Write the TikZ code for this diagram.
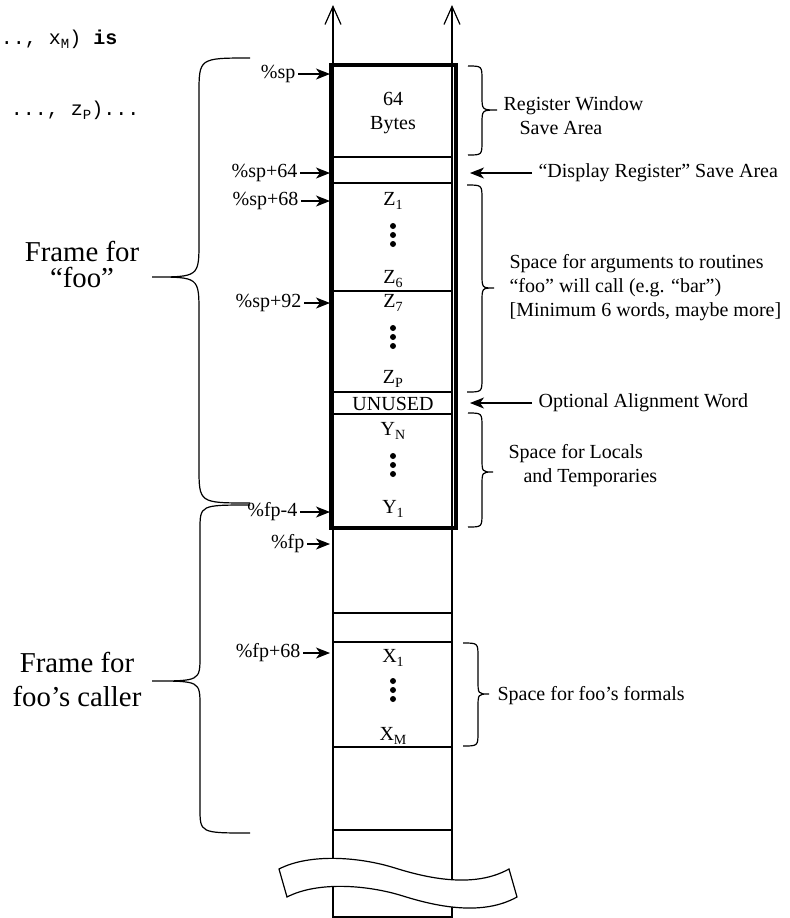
\documentclass[tikz,border=0pt]{standalone}
\usepackage{fontspec}
\setmainfont{Liberation Serif}
\setmonofont{Liberation Mono}
\usetikzlibrary{arrows.meta}

\newcommand{\lowidx}[1]{\raisebox{-2pt}{\scriptsize #1}}
% #1 end x, #2 spine x, #3 tip x, #4 top y, #5 tip y, #6 bottom y, #7 bend
\newcommand{\curly}[7]{%
  \draw (#1,#4) .. controls (#2,#4) .. (#2,#4+#7) -- (#2,#5-#7)
    .. controls (#2,#5) .. (#3,#5) .. controls (#2,#5) .. (#2,#5+#7)
    -- (#2,#6-#7) .. controls (#2,#6) .. (#1,#6);}

\begin{document}
\begin{tikzpicture}[x=0.5pt, y=-0.5pt, line width=0.6pt,
  every node/.style={inner sep=0pt, font=\fontsize{10}{12}\selectfont},
  ptr/.style={-{Stealth[length=7pt,width=5.5pt,inset=2pt]}},
  growth/.style={-{Straight Barb[length=9pt,width=8pt]}},
  slot/.style={anchor=base},
  addr/.style={anchor=east, inner sep=1pt},
  tag/.style={anchor=west, inner sep=3pt},
  note/.style={anchor=base west, align=left},
  framelabel/.style={anchor=base, align=center, font=\fontsize{14.4}{13}\selectfont},
  code/.style={anchor=base east, font=\ttfamily\fontsize{10}{12}\selectfont}]
  \useasboundingbox (0,0) rectangle (790,918);

  \coordinate (tipL) at (330,0);
  \coordinate (wing) at (470,0);

  % Stack column
  \draw[growth] (333,65) -- (333,5);
  \draw[growth] (452,65) -- (452,5);
  \draw (333,65) -- (333,917) -- (452,917) -- (452,65);
  \foreach \y in {157,183,291,392,414,528,613,642,747,830}
    \draw (333,\y) -- (452,\y);
  \draw[line width=2pt] (331,65) rectangle (456,528);

  % Break in the column
  \filldraw[fill=white] (279,869) .. controls (310,853) and (360,857) .. (395,868)
    .. controls (430,879) and (475,888) .. (509,869) -- (517,897)
    .. controls (483,916) and (438,907) .. (403,896)
    .. controls (368,885) and (318,881) .. (287,897) -- cycle;

  % Slot contents
  \node[slot, align=center] (bytes) at (393,129) {64\\Bytes};
  \node[slot] (z1) at (393,205) {Z\lowidx{1}};
  \node[slot] (z6) at (393,283) {Z\lowidx{6}};
  \node[slot] (z7) at (393,307) {Z\lowidx{7}};
  \node[slot] (zp) at (393,383) {Z\lowidx{P}};
  \node[slot] (unused) at (393,410) {UNUSED};
  \node[slot] (yn) at (393,435) {Y\lowidx{N}};
  \node[slot] (y1) at (393,513) {Y\lowidx{1}};
  \node[slot] (x1) at (393,662) {X\lowidx{1}};
  \node[slot] (xm) at (393,740) {X\lowidx{M}};
  \foreach \t in {226,328,456,681}
    \foreach \k in {0,1,2}
      \fill (393,\t+9*\k) circle[radius=1.5pt];

  % Register addresses
  \node[addr] (sp) at (298,74) {\%sp};
  \node[addr] (sp64) at (300,173) {\%sp+64};
  \node[addr] (sp68) at (301,201) {\%sp+68};
  \node[addr] (sp92) at (304,303) {\%sp+92};
  \node[addr] (fp4) at (300,512) {\%fp-4};
  \node[addr] (fp) at (307,544) {\%fp};
  \node[addr] (fp68) at (303,653) {\%fp+68};
  \foreach \n in {sp,sp64,sp68,sp92,fp4,fp,fp68}
    \draw[ptr] (\n.east) -- (\n.east -| tipL);

  % Notes on the right
  \curly{468}{482}{497}{66}{110}{155}{14}
  \node[note] (regwin) at (503,134) {Register Window\\\hspace*{8pt}Save Area};
  \node[tag] (disp) at (532,173) {“Display Register” Save Area};
  \draw[ptr] (disp.west) -- (disp.west -| wing);
  \curly{467}{482}{494}{185}{288}{392}{14}
  \node[note] (args) at (509,316) {Space for arguments to routines\\“foo” will call (e.g. “bar”)\\{[}Minimum 6 words, maybe more{]}};
  \node[tag] (padword) at (532,403) {Optional Alignment Word};
  \draw[ptr] (padword.west) -- (padword.west -| wing);
  \curly{468}{482}{493}{413}{472}{527}{14}
  \node[note] (locals) at (508,482) {Space for Locals\\\hspace*{7.5pt}and Temporaries};
  \curly{463}{478}{489}{643}{694}{746}{14}
  \node[note] (formals) at (497,700) {Space for foo’s formals};

  % Frames on the left
  \curly{250}{199}{152}{58}{277}{503}{36}
  \node[framelabel] (fooframe) at (82,287) {Frame for\\“foo”};
  \curly{250}{200}{152}{505}{681}{833}{25}
  \node[framelabel, font=\fontsize{14.4}{17}\selectfont] (callerframe) at (77,706) {Frame for\\foo’s caller};

  % Code fragments
  \node[code] (sig) at (118,44) {.., x\lowidx{M}) \textbf{is}};
  \node[code] (call) at (140,115) {..., z\lowidx{P})...};
\end{tikzpicture}
\end{document}
